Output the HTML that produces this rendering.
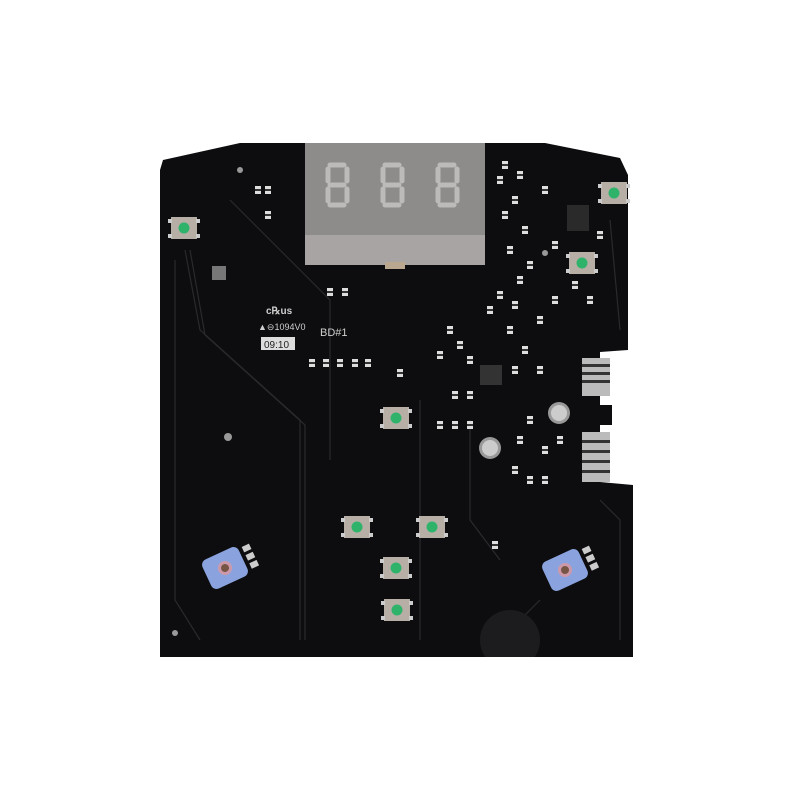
<!DOCTYPE html>
<html><head><style>
html,body{margin:0;padding:0;background:#fff;width:800px;height:800px;overflow:hidden}
</style></head><body>
<svg width="800" height="800" viewBox="0 0 800 800" xmlns="http://www.w3.org/2000/svg">
<defs>
<g id="btn"><rect x="-13" y="-11" width="26" height="22" fill="#b7aea6"/><rect x="-16" y="-9" width="4" height="4" fill="#ccc"/><rect x="12" y="-9" width="4" height="4" fill="#ccc"/><rect x="-16" y="6" width="4" height="4" fill="#ccc"/><rect x="12" y="6" width="4" height="4" fill="#ccc"/><circle r="5.5" fill="#2fb36a"/></g>
<g id="smd"><rect x="-3" y="-4" width="6" height="8" fill="#ddd"/><rect x="-3" y="-1" width="6" height="2" fill="#333"/></g>
<clipPath id="bc"><rect x="150" y="140" width="490" height="517"/></clipPath>
</defs>
<polygon points="163,160 240,143 485,143 545,143 620,158 628,175 628,350 600,352 600,405 612,405 612,425 600,425 600,482 633,485 633,657 160,657 160,170" fill="#0d0d0f"/>
<g stroke="#2a2a2e" stroke-width="1.2" fill="none">
<path d="M185,250 L200,330 L300,420 L300,640"/><path d="M190,250 L205,335 L305,425 L305,640"/>
<path d="M175,260 L175,600 L200,640"/><path d="M230,200 L330,300 L330,460"/>
<path d="M420,400 L420,640"/><path d="M470,420 L470,520 L500,560"/><path d="M610,220 L620,330"/>
<path d="M600,500 L620,520 L620,640"/><path d="M540,600 L510,630"/>
</g>
<circle cx="510" cy="640" r="30" fill="#1c1c1e" clip-path="url(#bc)"/>
<rect x="305" y="143" width="180" height="122" fill="#a7a4a3"/>
<rect x="305" y="143" width="180" height="92" fill="#8e8b8b"/>
<rect x="385" y="262" width="20" height="7" fill="#b9a790"/>
<g fill="none" stroke="#bdbaba" stroke-width="5" stroke-linecap="round">
<path d="M330,165 h14 M328,169 v12 M347,169 v12 M330,185 h14 M328,189 v12 M347,189 v12 M330,205 h14"/>
<path d="M385,165 h14 M383,169 v12 M402,169 v12 M385,185 h14 M383,189 v12 M402,189 v12 M385,205 h14"/>
<path d="M440,165 h14 M438,169 v12 M457,169 v12 M440,185 h14 M438,189 v12 M457,189 v12 M440,205 h14"/>
</g>
<g fill="#cfcfcf" font-family="Liberation Sans, sans-serif">
<text x="320" y="336" font-size="11">BD#1</text>
<text x="258" y="330" font-size="9">▲⊖1094V0</text>
<text x="266" y="314" font-size="10" font-weight="bold">c℞us</text>
<rect x="261" y="337" width="34" height="13" fill="#ddd"/>
<text x="264" y="348" font-size="10" fill="#222">09:10</text>
</g>
<rect x="212" y="266" width="14" height="14" fill="#777"/>
<rect x="480" y="365" width="22" height="20" fill="#333"/>
<rect x="567" y="205" width="22" height="26" fill="#2a2a2a"/>
<g fill="#bbb"><rect x="582" y="358" width="28" height="38"/><rect x="582" y="432" width="28" height="50"/></g>
<g fill="#333"><rect x="582" y="364" width="28" height="3"/><rect x="582" y="372" width="28" height="3"/><rect x="582" y="380" width="28" height="3"/><rect x="582" y="440" width="28" height="3"/><rect x="582" y="450" width="28" height="3"/><rect x="582" y="460" width="28" height="3"/><rect x="582" y="470" width="28" height="3"/></g>
<circle cx="559" cy="413" r="11" fill="#999"/><circle cx="559" cy="413" r="8" fill="#ccc"/>
<circle cx="490" cy="448" r="11" fill="#999"/><circle cx="490" cy="448" r="8" fill="#ccc"/>
<g>
<use href="#smd" x="258" y="190"/><use href="#smd" x="268" y="190"/><use href="#smd" x="268" y="215"/>
<use href="#smd" x="330" y="292"/><use href="#smd" x="345" y="292"/>
<use href="#smd" x="312" y="363"/><use href="#smd" x="326" y="363"/><use href="#smd" x="340" y="363"/><use href="#smd" x="355" y="363"/><use href="#smd" x="368" y="363"/>
<use href="#smd" x="400" y="373"/><use href="#smd" x="440" y="355"/><use href="#smd" x="460" y="345"/><use href="#smd" x="470" y="395"/>
<use href="#smd" x="510" y="330"/><use href="#smd" x="525" y="350"/><use href="#smd" x="540" y="320"/><use href="#smd" x="555" y="300"/>
<use href="#smd" x="575" y="285"/><use href="#smd" x="590" y="300"/><use href="#smd" x="530" y="420"/><use href="#smd" x="520" y="440"/>
<use href="#smd" x="545" y="450"/><use href="#smd" x="560" y="440"/><use href="#smd" x="530" y="480"/><use href="#smd" x="545" y="480"/>
<use href="#smd" x="500" y="180"/><use href="#smd" x="515" y="200"/><use href="#smd" x="525" y="230"/><use href="#smd" x="510" y="250"/><use href="#smd" x="530" y="265"/>
<use href="#smd" x="545" y="190"/><use href="#smd" x="555" y="245"/><use href="#smd" x="600" y="235"/><use href="#smd" x="495" y="545"/>
<use href="#smd" x="505" y="165"/><use href="#smd" x="520" y="175"/><use href="#smd" x="505" y="215"/><use href="#smd" x="520" y="280"/>
<use href="#smd" x="490" y="310"/><use href="#smd" x="500" y="295"/><use href="#smd" x="515" y="305"/><use href="#smd" x="450" y="330"/>
<use href="#smd" x="470" y="360"/><use href="#smd" x="515" y="370"/><use href="#smd" x="540" y="370"/><use href="#smd" x="455" y="395"/>
<use href="#smd" x="440" y="425"/><use href="#smd" x="455" y="425"/><use href="#smd" x="470" y="425"/><use href="#smd" x="515" y="470"/>
</g>
<use href="#btn" x="184" y="228"/><use href="#btn" x="614" y="193"/><use href="#btn" x="582" y="263"/>
<use href="#btn" x="396" y="418"/><use href="#btn" x="357" y="527"/><use href="#btn" x="432" y="527"/>
<use href="#btn" x="396" y="568"/><use href="#btn" x="397" y="610"/>
<g transform="translate(225,568) rotate(-25)"><rect x="-20" y="-16" width="40" height="32" rx="6" fill="#8aa3df"/><circle r="7" fill="#c9a"/><circle r="4" fill="#754"/><rect x="24" y="-12" width="8" height="6" fill="#ccc"/><rect x="24" y="-3" width="8" height="6" fill="#ccc"/><rect x="24" y="6" width="8" height="6" fill="#ccc"/></g>
<g transform="translate(565,570) rotate(-25)"><rect x="-20" y="-16" width="40" height="32" rx="6" fill="#8aa3df"/><circle r="7" fill="#c9a"/><circle r="4" fill="#754"/><rect x="24" y="-12" width="8" height="6" fill="#ccc"/><rect x="24" y="-3" width="8" height="6" fill="#ccc"/><rect x="24" y="6" width="8" height="6" fill="#ccc"/></g>
<g fill="#999"><circle cx="228" cy="437" r="4"/><circle cx="175" cy="633" r="3"/><circle cx="545" cy="253" r="3"/><circle cx="240" cy="170" r="3"/></g>
</svg>
</body></html>
